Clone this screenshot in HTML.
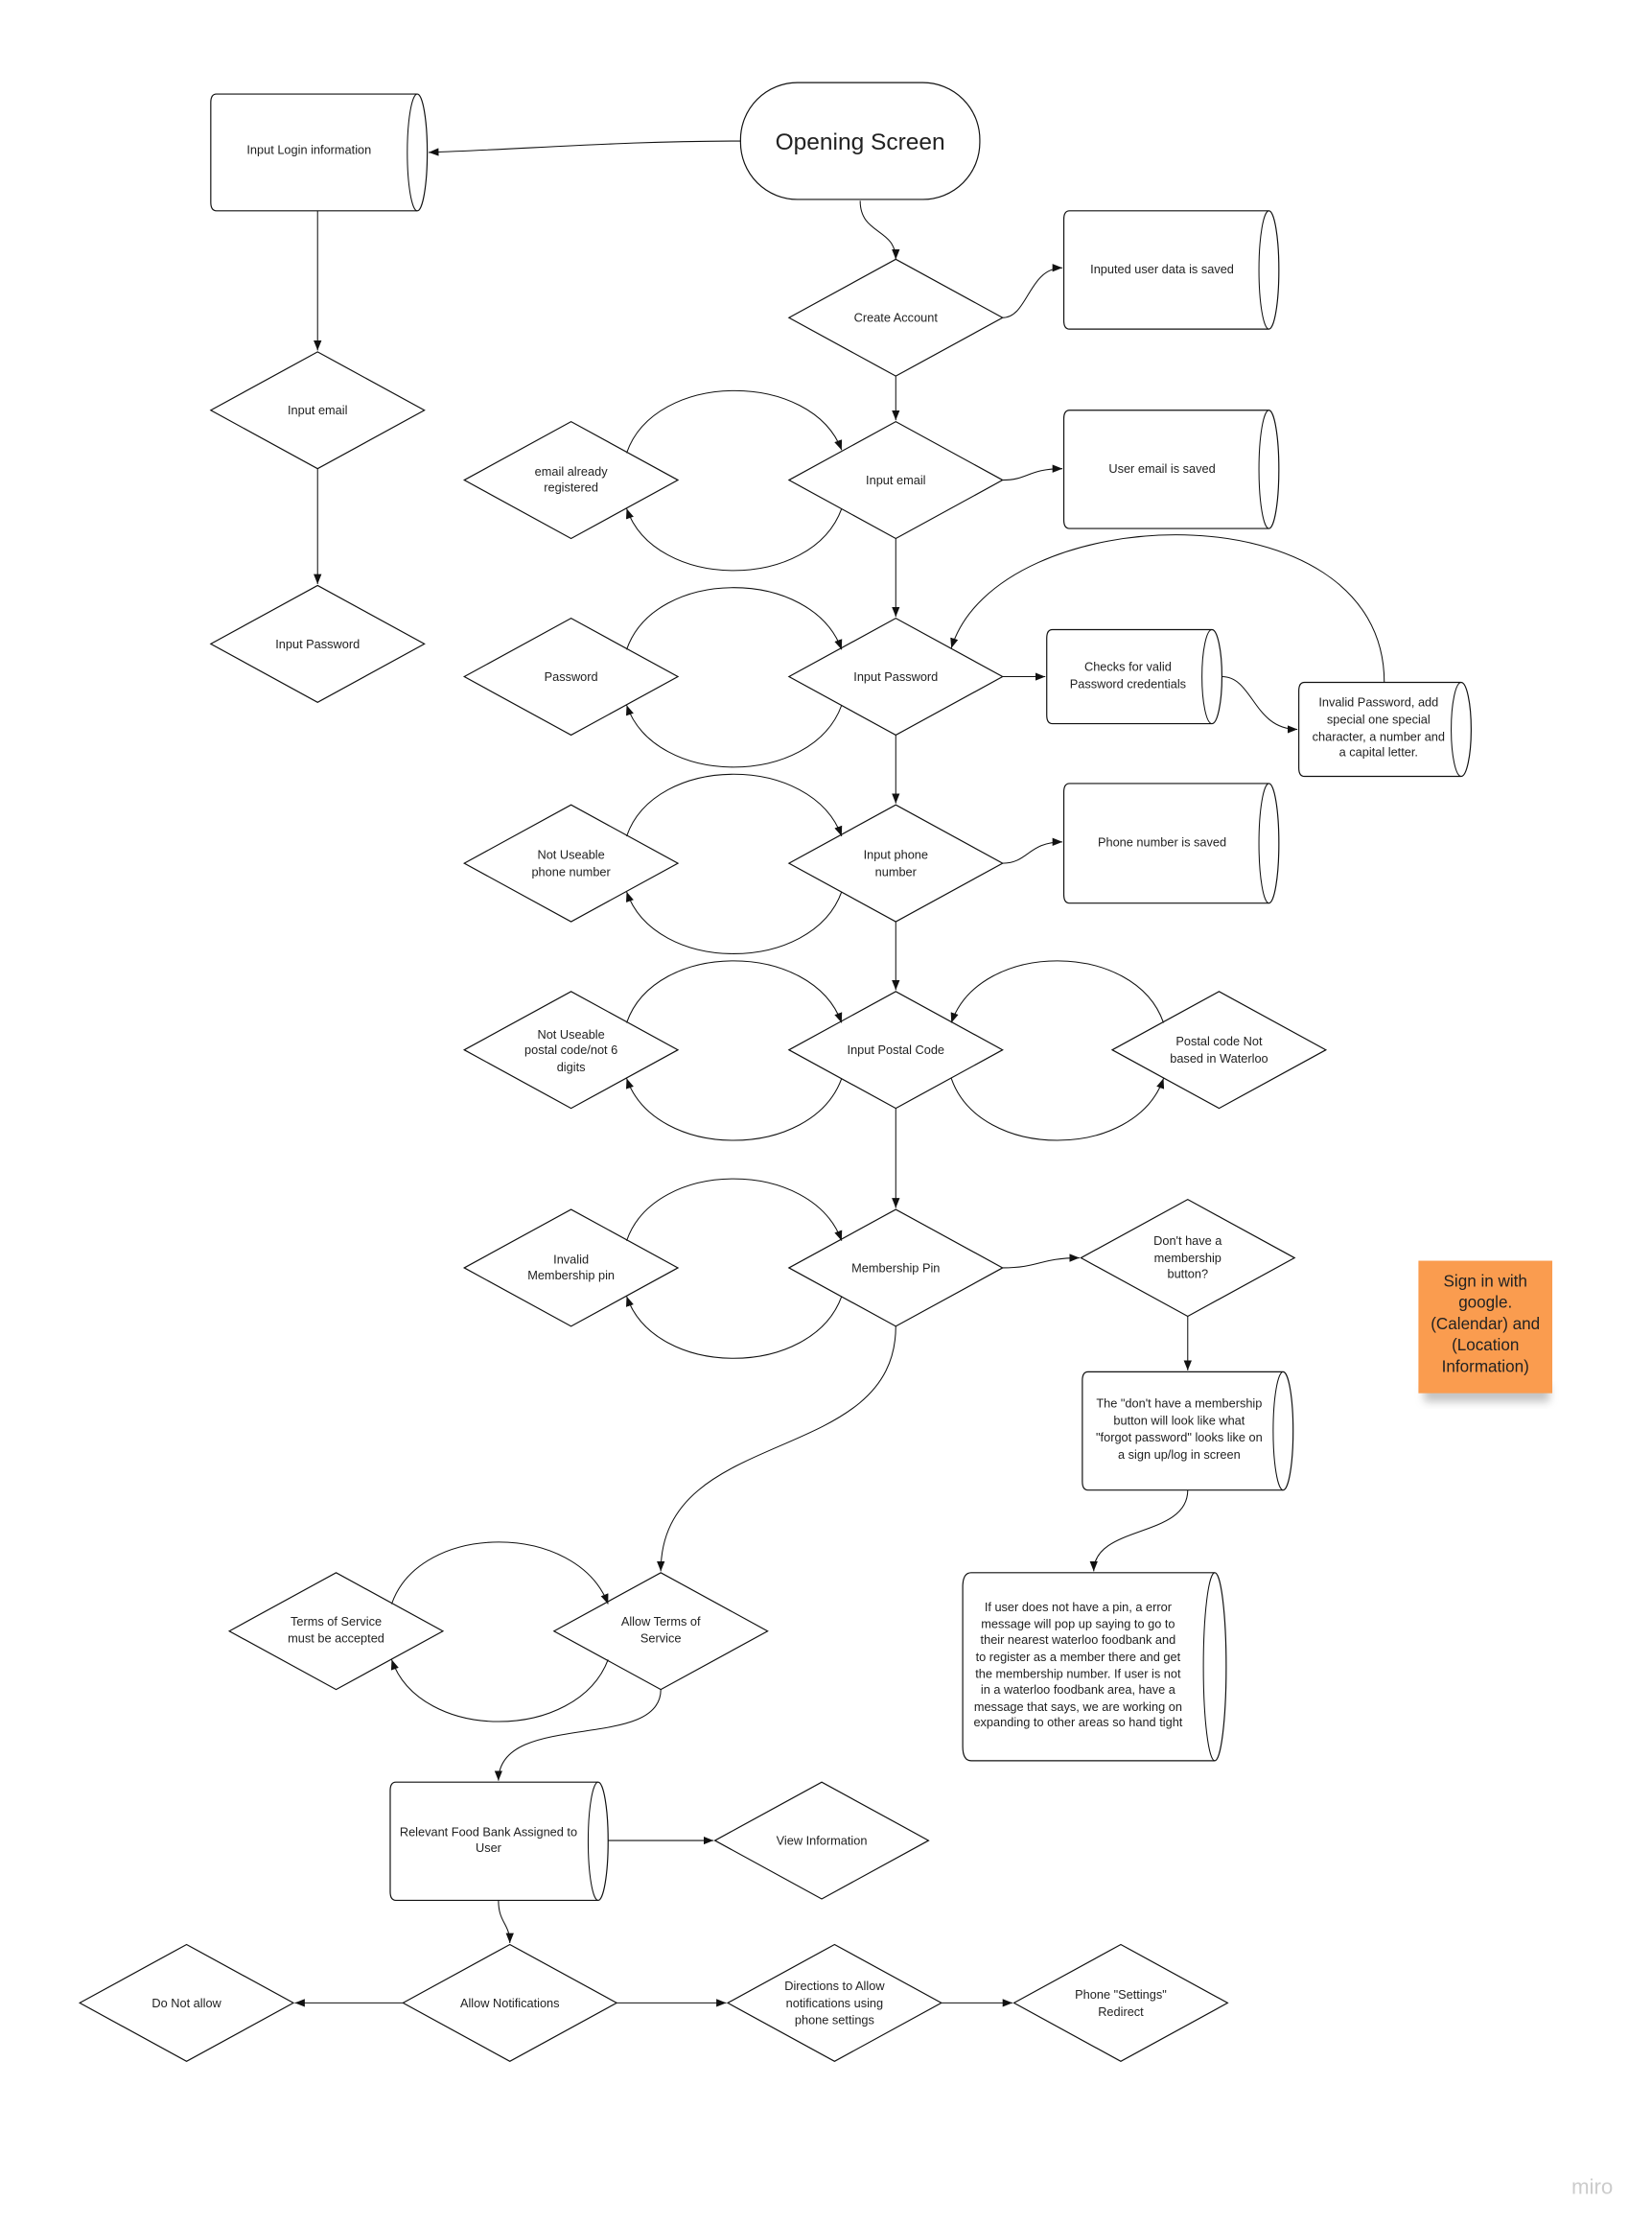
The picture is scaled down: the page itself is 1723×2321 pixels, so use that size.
<!DOCTYPE html>
<html><head><meta charset="utf-8"><style>
html,body{margin:0;padding:0;background:#fff;}
svg{display:block}
text{font-family:"Liberation Sans",sans-serif;font-size:8.6px;fill:#222;text-anchor:middle}
.s{fill:#fff;stroke:#111;stroke-width:0.8}
.l{fill:none;stroke:#111;stroke-width:0.7}
</style></head><body>
<svg width="1723" height="2321" viewBox="0 0 1160 1562.6" xmlns="http://www.w3.org/2000/svg">
<defs>
<marker id="a" viewBox="0 0 10 10" refX="10" refY="5" markerWidth="7" markerHeight="7" markerUnits="userSpaceOnUse" orient="auto"><path d="M0,1 L10,5 L0,9 z" fill="#111"/></marker>
<filter id="sh" x="-20%" y="-20%" width="140%" height="160%"><feGaussianBlur stdDeviation="3"/></filter>
</defs>
<rect width="1160" height="1563" fill="#fff"/>

<!-- Opening Screen -->
<rect class="s" x="520" y="58" width="168" height="82" rx="40"/>
<text x="604" y="105" style="font-size:16.5px">Opening Screen</text>

<!-- cylinders -->
<g>
<path class="s" d="M152,66 L293,66 A7,41 0 0 1 293,148 L152,148 Q148,148 148,142 L148,72 Q148,66 152,66 Z"/><path class="l" d="M293,66 A7,41 0 0 0 293,148"/>
<text x="217" y="108">Input Login information</text>

<path class="s" d="M751,148 L891,148 A7,41.5 0 0 1 891,231 L751,231 Q747,231 747,225 L747,154 Q747,148 751,148 Z"/><path class="l" d="M891,148 A7,41.5 0 0 0 891,231"/>
<text x="816" y="192">Inputed user data is saved</text>

<path class="s" d="M751,288 L891,288 A7,41.5 0 0 1 891,371 L751,371 Q747,371 747,365 L747,294 Q747,288 751,288 Z"/><path class="l" d="M891,288 A7,41.5 0 0 0 891,371"/>
<text x="816" y="332">User email is saved</text>

<path class="s" d="M739,442 L851,442 A7,33 0 0 1 851,508 L739,508 Q735,508 735,502 L735,448 Q735,442 739,442 Z"/><path class="l" d="M851,442 A7,33 0 0 0 851,508"/>
<text x="792" y="471">Checks for valid</text><text x="792" y="483">Password credentials</text>

<path class="s" d="M916,479 L1026,479 A7,33 0 0 1 1026,545 L916,545 Q912,545 912,539 L912,485 Q912,479 916,479 Z"/><path class="l" d="M1026,479 A7,33 0 0 0 1026,545"/>
<text x="968" y="496">Invalid Password, add</text><text x="968" y="508">special one special</text><text x="968" y="520">character, a number and</text><text x="968" y="531">a capital letter.</text>

<path class="s" d="M751,550 L891,550 A7,42 0 0 1 891,634 L751,634 Q747,634 747,628 L747,556 Q747,550 751,550 Z"/><path class="l" d="M891,550 A7,42 0 0 0 891,634"/>
<text x="816" y="594">Phone number is saved</text>

<path class="s" d="M764,963 L901,963 A7,41.5 0 0 1 901,1046 L764,1046 Q760,1046 760,1040 L760,969 Q760,963 764,963 Z"/><path class="l" d="M901,963 A7,41.5 0 0 0 901,1046"/>
<text x="828" y="988">The "don't have a membership</text><text x="828" y="1000">button will look like what</text><text x="828" y="1012">"forgot password" looks like on</text><text x="828" y="1024">a sign up/log in screen</text>

<path class="s" d="M682,1104 L853,1104 A8,66 0 0 1 853,1236 L682,1236 Q676,1236 676,1226 L676,1114 Q676,1104 682,1104 Z"/><path class="l" d="M853,1104 A8,66 0 0 0 853,1236"/>
<text x="757" y="1131">If user does not have a pin, a error</text>
<text x="757" y="1143">message will pop up saying to go to</text>
<text x="757" y="1154">their nearest waterloo foodbank and</text>
<text x="757" y="1166">to register as a member there and get</text>
<text x="757" y="1178">the membership number. If user is not</text>
<text x="757" y="1189">in a waterloo foodbank area, have a</text>
<text x="757" y="1201">message that says, we are working on</text>
<text x="757" y="1212">expanding to other areas so hand tight</text>

<path class="s" d="M278,1251 L420,1251 A7,41.5 0 0 1 420,1334 L278,1334 Q274,1334 274,1328 L274,1257 Q274,1251 278,1251 Z"/><path class="l" d="M420,1251 A7,41.5 0 0 0 420,1334"/>
<text x="343" y="1289">Relevant Food Bank Assigned to</text><text x="343" y="1300">User</text>
</g>

<!-- diamonds -->
<g>
<path class="s" d="M554,223 L629,182 L704,223 L629,264 Z"/><text x="629" y="226">Create Account</text>
<path class="s" d="M148,288 L223,247 L298,288 L223,329 Z"/><text x="223" y="291">Input email</text>
<path class="s" d="M148,452 L223,411 L298,452 L223,493 Z"/><text x="223" y="455">Input Password</text>
<path class="s" d="M554,337 L629,296 L704,337 L629,378 Z"/><text x="629" y="340">Input email</text>
<path class="s" d="M326,337 L401,296 L476,337 L401,378 Z"/><text x="401" y="334">email already</text><text x="401" y="345">registered</text>
<path class="s" d="M554,475 L629,434 L704,475 L629,516 Z"/><text x="629" y="478">Input Password</text>
<path class="s" d="M326,475 L401,434 L476,475 L401,516 Z"/><text x="401" y="478">Password</text>
<path class="s" d="M554,606 L629,565 L704,606 L629,647 Z"/><text x="629" y="603">Input phone</text><text x="629" y="615">number</text>
<path class="s" d="M326,606 L401,565 L476,606 L401,647 Z"/><text x="401" y="603">Not Useable</text><text x="401" y="615">phone number</text>
<path class="s" d="M554,737 L629,696 L704,737 L629,778 Z"/><text x="629" y="740">Input Postal Code</text>
<path class="s" d="M326,737 L401,696 L476,737 L401,778 Z"/><text x="401" y="729">Not Useable</text><text x="401" y="740">postal code/not 6</text><text x="401" y="752">digits</text>
<path class="s" d="M781,737 L856,696 L931,737 L856,778 Z"/><text x="856" y="734">Postal code Not</text><text x="856" y="746">based in Waterloo</text>
<path class="s" d="M554,890 L629,849 L704,890 L629,931 Z"/><text x="629" y="893">Membership Pin</text>
<path class="s" d="M326,890 L401,849 L476,890 L401,931 Z"/><text x="401" y="887">Invalid</text><text x="401" y="898">Membership pin</text>
<path class="s" d="M759,883 L834,842 L909,883 L834,924 Z"/><text x="834" y="874">Don't have a</text><text x="834" y="886">membership</text><text x="834" y="897">button?</text>
<path class="s" d="M389,1145 L464,1104 L539,1145 L464,1186 Z"/><text x="464" y="1141">Allow Terms of</text><text x="464" y="1153">Service</text>
<path class="s" d="M161,1145 L236,1104 L311,1145 L236,1186 Z"/><text x="236" y="1141">Terms of Service</text><text x="236" y="1153">must be accepted</text>
<path class="s" d="M502,1292 L577,1251 L652,1292 L577,1333 Z"/><text x="577" y="1295">View Information</text>
<path class="s" d="M283,1406 L358,1365 L433,1406 L358,1447 Z"/><text x="358" y="1409">Allow Notifications</text>
<path class="s" d="M56,1406 L131,1365 L206,1406 L131,1447 Z"/><text x="131" y="1409">Do Not allow</text>
<path class="s" d="M511,1406 L586,1365 L661,1406 L586,1447 Z"/><text x="586" y="1397">Directions to Allow</text><text x="586" y="1409">notifications using</text><text x="586" y="1421">phone settings</text>
<path class="s" d="M712,1406 L787,1365 L862,1406 L787,1447 Z"/><text x="787" y="1403">Phone "Settings"</text><text x="787" y="1415">Redirect</text>
</g>

<!-- connectors -->
<g class="l" marker-end="url(#a)">
<path d="M520,99 C440,99 380,104 301,107"/>
<path d="M604,141 C604,165 629,160 629,182"/>
<path d="M704,223 C722,223 722,188 746,188"/>
<path d="M223,148 L223,246"/>
<path d="M223,329 L223,410"/>
<path d="M629,264 L629,295"/>
<path d="M704,337 C722,337 722,329 746,329"/>
<path d="M629,378 L629,433"/>
<path d="M704,475 L734,475"/>
<path d="M858,475 C880,475 880,512 911,512"/>
<path d="M972,479 C972,340 700,350 668,455"/>
<path d="M629,516 L629,564"/>
<path d="M704,606 C722,606 722,591 746,591"/>
<path d="M629,647 L629,695"/>
<path d="M629,778 L629,848"/>
<path d="M704,890 C730,890 730,883 758,883"/>
<path d="M834,924 L834,962"/>
<path d="M834,1046 C834,1080 768,1070 768,1103"/>
<path d="M629,931 C629,1030 464,1000 464,1103"/>
<path d="M464,1186 C464,1230 350,1200 350,1250"/>
<path d="M427,1292 L501,1292"/>
<path d="M350,1334 C350,1350 358,1350 358,1364"/>
<path d="M283,1406 L207,1406"/>
<path d="M433,1406 L510,1406"/>
<path d="M661,1406 L711,1406"/>
<!-- loops left -->
<path d="M440,318 C460,260 570,260 591,316"/>
<path d="M591,357 C570,415 460,415 440,357"/>
<path d="M440,456 C460,398 570,398 591,456"/>
<path d="M591,495 C570,553 460,553 440,495"/>
<path d="M440,587 C460,529 570,529 591,587"/>
<path d="M591,626 C570,684 460,684 440,626"/>
<path d="M440,718 C460,660 570,660 591,718"/>
<path d="M591,757 C570,815 460,815 440,757"/>
<path d="M440,871 C460,813 570,813 591,871"/>
<path d="M591,910 C570,968 460,968 440,910"/>
<path d="M275,1126 C295,1068 405,1068 427,1126"/>
<path d="M427,1165 C405,1223 295,1223 275,1165"/>
<!-- loops right -->
<path d="M817,718 C797,660 688,660 668,718"/>
<path d="M668,757 C688,815 797,815 817,757"/>
</g>

<!-- sticky -->
<rect x="1000" y="972" width="88" height="12" fill="#888" opacity="0.5" filter="url(#sh)"/>
<rect x="996" y="885" width="94" height="93" fill="#fa9c4f"/>
<g style="font-size:11.5px">
<text x="1043" y="903" style="font-size:11.5px">Sign in with</text>
<text x="1043" y="918" style="font-size:11.5px">google.</text>
<text x="1043" y="933" style="font-size:11.5px">(Calendar) and</text>
<text x="1043" y="948" style="font-size:11.5px">(Location</text>
<text x="1043" y="963" style="font-size:11.5px">Information)</text>
</g>
<text x="1118" y="1540" style="font-size:15px;fill:#ccc">miro</text>
</svg>
</body></html>
